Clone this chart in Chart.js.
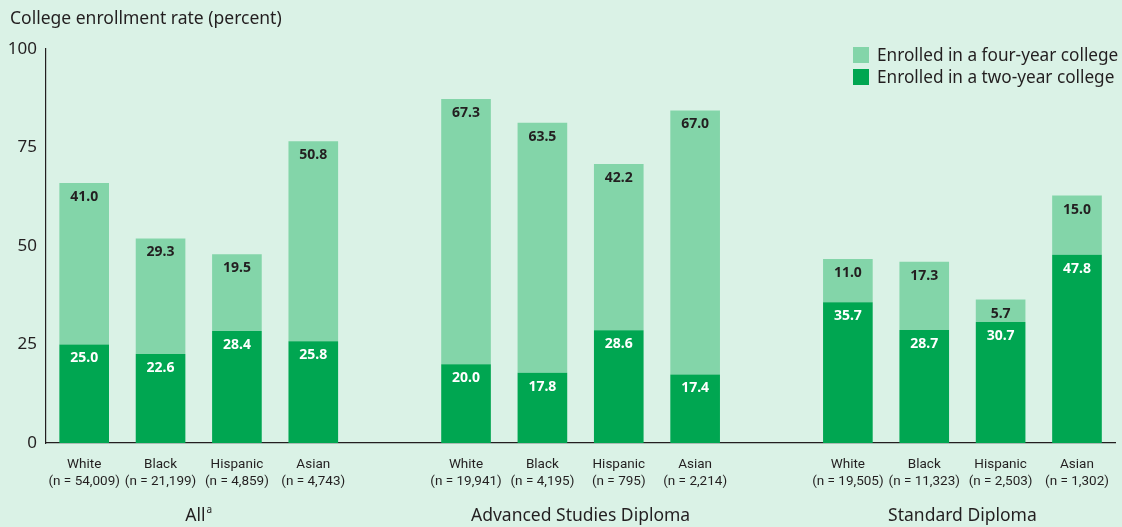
<!DOCTYPE html>
<html>
<head>
<meta charset="utf-8">
<script src="https://cdn.jsdelivr.net/npm/chart.js@4.4.1/dist/chart.umd.min.js"></script>
<style>
html,body{margin:0;padding:0;background:#daf2e6;}
#wrap{position:relative;width:1122px;height:527px;}
canvas{position:absolute;left:0;top:0;}
#title{position:absolute;left:10px;top:5px;font:17.5px "Noto Sans",sans-serif;color:#231f20;}
#legend{position:absolute;left:853px;top:44px;font:17.2px "Noto Sans",sans-serif;color:#231f20;line-height:22px;}
#legend div{display:flex;align-items:center;}
#legend span.sw{display:inline-block;width:16px;height:16px;margin-right:8px;}
</style>
</head>
<body>
<div id="wrap">
<canvas id="c" width="1122" height="527"></canvas>
<div id="title">College enrollment rate (percent)</div>
<div id="legend">
<div><span class="sw" style="background:#83d5a9"></span>Enrolled in a four-year college</div>
<div><span class="sw" style="background:#00a651"></span>Enrolled in a two-year college</div>
</div>
</div>
<script>
const categories = [
  ["White","(n = 54,009)"],["Black","(n = 21,199)"],["Hispanic","(n = 4,859)"],["Asian","(n = 4,743)"],
  "",
  ["White","(n = 19,941)"],["Black","(n = 4,195)"],["Hispanic","(n = 795)"],["Asian","(n = 2,214)"],
  "",
  ["White","(n = 19,505)"],["Black","(n = 11,323)"],["Hispanic","(n = 2,503)"],["Asian","(n = 1,302)"]
];
const twoYear  = [25.0, 22.6, 28.4, 25.8, null, 20.0, 17.8, 28.6, 17.4, null, 35.7, 28.7, 30.7, 47.8];
const fourYear = [41.0, 29.3, 19.5, 50.8, null, 67.3, 63.5, 42.2, 67.0, null, 11.0, 17.3, 5.7, 15.0];
const groupNames = ["All", "Advanced Studies Diploma", "Standard Diploma"];
const groupSup = ["a", "", ""];
const groupIndex = [[0,3],[5,8],[10,13]];
const yTicks = [0, 25, 50, 75, 100];

const labelPlugin = {
  id: 'labels',
  afterDatasetsDraw(chart) {
    const ctx = chart.ctx;
    ctx.save();
    ctx.font = 'bold 14px "Noto Sans", sans-serif';
    ctx.textAlign = 'center';
    ctx.textBaseline = 'middle';
    chart.data.datasets.forEach((ds, di) => {
      const meta = chart.getDatasetMeta(di);
      meta.data.forEach((bar, i) => {
        const v = ds.data[i];
        if (v == null) return;
        ctx.fillStyle = di === 0 ? '#ffffff' : '#231f20';
        ctx.fillText(v.toFixed(1), bar.x, bar.y + 14);
      });
    });
    const xs = chart.scales.x;
    groupNames.forEach((g, k) => {
      const cx = (xs.getPixelForValue(groupIndex[k][0]) + xs.getPixelForValue(groupIndex[k][1])) / 2;
      ctx.font = '17.5px "Noto Sans", sans-serif';
      ctx.fillStyle = '#231f20';
      ctx.textBaseline = 'alphabetic';
      const w = ctx.measureText(g).width;
      let sw = 0;
      if (groupSup[k]) {
        ctx.font = '10px "Noto Sans", sans-serif';
        sw = ctx.measureText(groupSup[k]).width + 1;
      }
      const x0 = cx - (w + sw) / 2;
      ctx.font = '17.5px "Noto Sans", sans-serif';
      ctx.textAlign = 'left';
      ctx.fillText(g, x0, 521);
      if (groupSup[k]) {
        ctx.font = '10px "Noto Sans", sans-serif';
        ctx.fillText(groupSup[k], x0 + w + 1, 513);
      }
    });
    ctx.restore();
  }
};

new Chart(document.getElementById('c'), {
  type: 'bar',
  data: {
    labels: categories,
    datasets: [
      { label: 'Enrolled in a two-year college', data: twoYear, backgroundColor: '#00a651', barPercentage: 0.65, categoryPercentage: 1 },
      { label: 'Enrolled in a four-year college', data: fourYear, backgroundColor: '#83d5a9', barPercentage: 0.65, categoryPercentage: 1 }
    ]
  },
  options: {
    responsive: false,
    animation: false,
    layout: { padding: { top: 49, right: 2, left: 0, bottom: 0 } },
    plugins: { legend: { display: false }, tooltip: { enabled: false } },
    scales: {
      x: {
        stacked: true,
        grid: { display: false, drawTicks: false },
        border: { display: true, color: '#231f20', width: 1.2 },
        ticks: {
          color: '#231f20', padding: 13, maxRotation: 0, autoSkip: false,
          font: { family: 'Roboto, sans-serif', size: 13.5, lineHeight: 1.25 }
        },
        afterFit(s) { s.height = 84; }
      },
      y: {
        stacked: true, min: 0, max: 100,
        afterBuildTicks(s) { s.ticks = yTicks.map(v => ({ value: v })); },
        grid: { display: false, drawTicks: false },
        border: { display: true, color: '#231f20', width: 1.2 },
        ticks: { color: '#231f20', padding: 9, font: { family: '"Noto Sans", sans-serif', size: 17 } },
        afterFit(s) { s.width = 46; }
      }
    }
  },
  plugins: [labelPlugin]
});
</script>
</body>
</html>
